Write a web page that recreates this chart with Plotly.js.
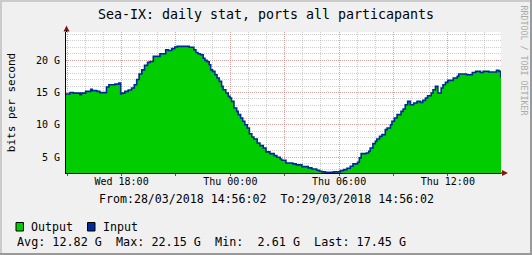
<!DOCTYPE html>
<html><head><meta charset="utf-8">
<script src="https://cdn.plot.ly/plotly-3.0.1.min.js"></script>
<style>html,body{margin:0;padding:0;background:#f0f0f0;overflow:hidden}#chart{width:532px;height:255px}</style>
</head><body><div id="chart"></div>
<script>
// ---- data ----
const chartTitle = 'Sea-IX: daily stat, ports all particapants';
const yAxisTitle = 'bits per second';
const periodText = 'From:28/03/2018 14:56:02  To:29/03/2018 14:56:02';
const seriesNames = ['Output', 'Input'];
// minutes after 28/03/2018 14:56:02
const minutesFromStart = [
  0,13,24,46,51,65,82,87,102,112,
  134,142,162,175,181,184,195,206,217,226,
  234,242,251,260,270,278,289,311,330,339,
  350,360,368,408,423,430,437,445,454,460,
  467,474,479,485,493,500,507,515,520,529,
  537,543,548,556,565,570,578,585,592,600,
  607,615,622,633,642,653,662,675,689,698,
  709,714,728,751,762,781,802,814,830,839,
  847,858,885,908,919,930,941,950,965,971,
  977,994,1002,1007,1016,1024,1029,1038,1046,1057,
  1063,1074,1079,1087,1096,1109,1116,1123,1131,1140,
  1151,1162,1173,1181,1190,1197,1209,1215,1223,1231,
  1242,1248,1256,1264,1282,1295,1300,1326,1345,1356,
  1372,1381,1400,1425,1433,1439,1440
];
// Output (green area), Gbit/s
const outputGbps = [
  14.77,15.0,14.9,14.66,14.9,15.17,15.5,15.28,15.17,14.97,
  15.85,16.2,16.3,16.47,14.77,14.9,15.17,15.38,15.7,16.2,
  17.0,17.86,18.5,19.2,19.66,19.8,20.6,21.0,21.6,21.5,
  21.8,22.05,22.15,22.0,21.6,21.2,21.0,20.85,20.3,19.97,
  19.77,19.3,18.5,18.27,17.75,17.24,16.72,15.94,15.43,14.92,
  14.4,14.15,13.62,12.6,12.07,11.56,11.05,10.53,10.0,9.5,
  8.6,8.1,7.8,7.18,6.76,6.4,5.79,5.53,5.22,4.95,
  4.7,4.49,4.08,3.93,3.78,3.51,3.31,3.15,2.94,2.79,
  2.69,2.61,2.69,2.89,3.05,3.25,3.56,3.93,4.18,4.86,
  5.53,5.63,5.88,6.4,7.07,7.43,7.8,8.2,8.47,9.24,
  9.5,10.0,10.53,11.05,11.56,12.07,12.44,13.1,13.62,13.1,
  13.37,13.62,13.47,13.78,14.15,14.5,14.92,15.43,15.94,14.92,
  15.7,16.2,16.56,16.87,17.24,17.5,17.86,17.75,18.1,18.27,
  18.1,18.27,18.17,18.42,18.27,17.45,17.45
];
// Input (blue line) – traces the same outline as Output
const inputGbps = [
  14.77,15.0,14.9,14.66,14.9,15.17,15.5,15.28,15.17,14.97,
  15.85,16.2,16.3,16.47,14.77,14.9,15.17,15.38,15.7,16.2,
  17.0,17.86,18.5,19.2,19.66,19.8,20.6,21.0,21.6,21.5,
  21.8,22.05,22.15,22.0,21.6,21.2,21.0,20.85,20.3,19.97,
  19.77,19.3,18.5,18.27,17.75,17.24,16.72,15.94,15.43,14.92,
  14.4,14.15,13.62,12.6,12.07,11.56,11.05,10.53,10.0,9.5,
  8.6,8.1,7.8,7.18,6.76,6.4,5.79,5.53,5.22,4.95,
  4.7,4.49,4.08,3.93,3.78,3.51,3.31,3.15,2.94,2.79,
  2.69,2.61,2.69,2.89,3.05,3.25,3.56,3.93,4.18,4.86,
  5.53,5.63,5.88,6.4,7.07,7.43,7.8,8.2,8.47,9.24,
  9.5,10.0,10.53,11.05,11.56,12.07,12.44,13.1,13.62,13.1,
  13.37,13.62,13.47,13.78,14.15,14.5,14.92,15.43,15.94,14.92,
  15.7,16.2,16.56,16.87,17.24,17.5,17.86,17.75,18.1,18.27,
  18.1,18.27,18.17,18.42,18.27,17.45,17.45
];
const yTickValues = [5, 10, 15, 20];
const yTickLabels = ['5 G', '10 G', '15 G', '20 G'];
// x ticks every 3 h, labels every 6 h
const xTickTimes = ['2018-03-28 15:00','2018-03-28 18:00','2018-03-28 21:00','2018-03-29 00:00',
                    '2018-03-29 03:00','2018-03-29 06:00','2018-03-29 09:00','2018-03-29 12:00'];
const xTickLabels = ['', 'Wed 18:00', '', 'Thu 00:00', '', 'Thu 06:00', '', 'Thu 12:00'];
const statNames = ['Avg', 'Max', 'Min', 'Last'];
const statValues = ['12.82', '22.15', ' 2.61', '17.45'];
const watermark = 'RRDTOOL / TOBI OETIKER';

// ---- build ----
const startMs = Date.UTC(2018, 2, 28, 14, 56, 2);
const endMs = Date.UTC(2018, 2, 29, 14, 56, 2);
const xs = minutesFromStart.map(m => startMs + m * 60000);

const W = 532, H = 255, L = 66, R = 31, T = 32, B = 82;
const pw = W - L - R, ph = H - T - B;
const px = x => (x - L) / pw;
const py = y => (H - B - y) / ph;

const FONT = 'DejaVu Sans Mono, monospace';
const GREEN = '#00CC00', BLUE = '#002A97';
const MGRID = 'rgba(235,90,90,0.38)', GRID = 'rgba(140,140,140,0.42)';

const traces = [
  {x: xs, y: outputGbps, name: seriesNames[0], type: 'scatter', mode: 'lines',
   line: {shape: 'hv', width: 0, color: GREEN}, fill: 'tozeroy', fillcolor: GREEN, hoverinfo: 'skip'},
  {x: xs, y: inputGbps, name: seriesNames[1], type: 'scatter', mode: 'lines',
   line: {shape: 'hv', width: 1.6, color: BLUE}, hoverinfo: 'skip'}
];

const nb = s => s.replace(/ /g, '\u00a0');
const statsText = statNames.map((n, i) => n + ': ' + statValues[i] + ' G').join('  ');

const layout = {
  width: W, height: H,
  margin: {l: L, r: R, t: T, b: B, pad: 0},
  paper_bgcolor: '#f0f0f0', plot_bgcolor: '#ffffff',
  showlegend: false,
  font: {family: FONT, color: '#000'},
  title: {text: chartTitle, font: {family: FONT, size: 13.3, color: '#000'},
          xref: 'container', x: 0.5, xanchor: 'center', yref: 'container', y: 1 - 14 / H, yanchor: 'middle'},
  xaxis: {
    type: 'date', range: [startMs, endMs],
    tickmode: 'array', tickvals: xTickTimes, ticktext: xTickLabels,
    tickfont: {family: FONT, size: 10, color: '#000'},
    ticks: 'outside', ticklen: 2, tickcolor: '#555', ticklabelstandoff: -3,
    showgrid: true, gridcolor: MGRID, griddash: '1px,1px', gridwidth: 1,
    minor: {tickmode: 'linear', tick0: '2018-03-28 15:00', dtick: 3600000,
            showgrid: true, gridcolor: GRID, griddash: '1px,1px', gridwidth: 1, ticks: ''},
    showline: true, linecolor: '#000', linewidth: 1, zeroline: false, fixedrange: true
  },
  yaxis: {
    range: [2.52, 24.37],
    tickmode: 'array', tickvals: yTickValues, ticktext: yTickLabels,
    tickfont: {family: FONT, size: 10, color: '#000'},
    ticks: '', ticklabelstandoff: 3,
    showgrid: true, gridcolor: MGRID, griddash: '1px,1px', gridwidth: 1,
    minor: {tickmode: 'linear', tick0: 0, dtick: 1,
            showgrid: true, gridcolor: GRID, griddash: '1px,1px', gridwidth: 1, ticks: ''},
    showline: true, linecolor: '#000', linewidth: 1, zeroline: false, fixedrange: true,
    title: {text: yAxisTitle, font: {family: FONT, size: 11, color: '#000'}, standoff: 18}
  },
  shapes: [
    {type: 'path', xref: 'paper', yref: 'paper', layer: 'above',
     path: `M ${px(63.5)} ${py(31.5)} L ${px(69.5)} ${py(31.5)} L ${px(66.5)} ${py(25.5)} Z`,
     fillcolor: '#8B1010', line: {width: 0}},
    {type: 'line', xref: 'paper', yref: 'paper', x0: px(66.5), x1: px(66.5), y0: 1, y1: py(30),
     line: {color: '#000', width: 1}},
    {type: 'line', xref: 'paper', yref: 'paper', x0: 1, x1: px(503), y0: 0, y1: 0,
     line: {color: '#000', width: 1}},
    {type: 'path', xref: 'paper', yref: 'paper', layer: 'above',
     path: `M ${px(502)} ${py(170)} L ${px(502)} ${py(176)} L ${px(508)} ${py(173)} Z`,
     fillcolor: '#8B1010', line: {width: 0}},
    {type: 'rect', xref: 'paper', yref: 'paper', x0: px(16), x1: px(23.5), y0: py(231), y1: py(222.5),
     fillcolor: GREEN, line: {color: '#000', width: 1}},
    {type: 'rect', xref: 'paper', yref: 'paper', x0: px(87.5), x1: px(95), y0: py(231), y1: py(222.5),
     fillcolor: BLUE, line: {color: '#000', width: 1}},
    {type: 'rect', xref: 'paper', yref: 'paper', x0: px(0), x1: px(W), y0: py(0), y1: py(2),
     fillcolor: '#CBCBCB', line: {width: 0}},
    {type: 'rect', xref: 'paper', yref: 'paper', x0: px(0), x1: px(2), y0: py(0), y1: py(H),
     fillcolor: '#CBCBCB', line: {width: 0}},
    {type: 'rect', xref: 'paper', yref: 'paper', x0: px(W - 2), x1: px(W), y0: py(0), y1: py(H),
     fillcolor: '#999999', line: {width: 0}},
    {type: 'rect', xref: 'paper', yref: 'paper', x0: px(0), x1: px(W), y0: py(H - 2), y1: py(H),
     fillcolor: '#999999', line: {width: 0}}
  ],
  annotations: [
    {text: nb(periodText), xref: 'paper', yref: 'paper', x: px(266), y: py(199),
     xanchor: 'center', yanchor: 'middle', showarrow: false, borderpad: 0,
     font: {family: FONT, size: 11.6, color: '#000'}},
    {text: seriesNames[0], xref: 'paper', yref: 'paper', x: px(30), y: py(227),
     xanchor: 'left', yanchor: 'middle', showarrow: false, borderpad: 0,
     font: {family: FONT, size: 11.6, color: '#000'}},
    {text: seriesNames[1], xref: 'paper', yref: 'paper', x: px(101.5), y: py(227),
     xanchor: 'left', yanchor: 'middle', showarrow: false, borderpad: 0,
     font: {family: FONT, size: 11.6, color: '#000'}},
    {text: nb(statsText), xref: 'paper', yref: 'paper', x: px(16), y: py(242),
     xanchor: 'left', yanchor: 'middle', showarrow: false, borderpad: 0,
     font: {family: FONT, size: 11.75, color: '#000'}},
    {text: watermark, xref: 'paper', yref: 'paper', x: px(523.5), y: py(60),
     xanchor: 'center', yanchor: 'middle', textangle: 90, showarrow: false, borderpad: 0,
     font: {family: FONT, size: 8.3, color: '#AAAAAA'}}
  ]
};

Plotly.newPlot('chart', traces, layout, {staticPlot: true, displayModeBar: false});
</script></body></html>
